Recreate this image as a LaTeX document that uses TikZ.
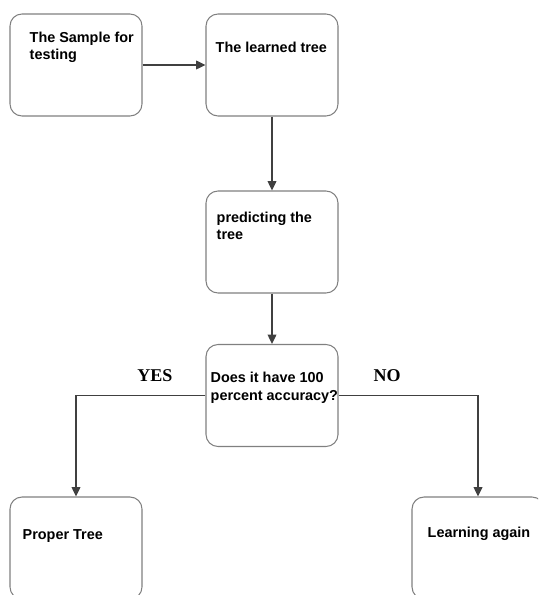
\documentclass[tikz,border=0pt]{standalone}
\usepackage{fontspec}
\setmainfont{Liberation Sans}
\newfontfamily\labelfont{Liberation Serif}
\usetikzlibrary{positioning,
        arrows.meta}

\begin{document}
\begin{tikzpicture}[x=0.75pt,y=-0.75pt,
        box/.style={draw=black!50,line width=0.8pt,rounded corners=9pt,minimum width=99pt,minimum height=76.5pt,inner sep=0pt},
        txt/.style={inner sep=0pt,align=left,font=\bfseries\fontsize{10.8}{13.2}\selectfont},
        yn/.style={font=\labelfont\bfseries\fontsize{13.5}{16}\selectfont},
        link/.style={draw=black!75,line width=1.1pt,-{Triangle[length=7pt,width=6.5pt]}}]
        \useasboundingbox (0,0) rectangle (538,595);
        \clip (0,0) rectangle (538,595);

        \node [box] (sample) at (76,65) {};
        \node [box] (learned) at (272,65) {};
        \node [box] (predict) at (272,242) {};
        \node [box] (accuracy) at (272,395.5) {};
        \node [box] (proper) at (76,548) {};
        \node [box] (again) at (478,548) {};

        \node [txt,below right=13.5pt and 15pt of sample.north west] (sampletext) {The Sample for\\testing};
        \node [txt,below right=21pt and 7.5pt of learned.north west] (learnedtext) {The learned tree};
        \node [txt,below right=15.75pt and 8.25pt of predict.north west] (predicttext) {predicting the\\tree};
        \node [txt,below right=21pt and 3.75pt of accuracy.north west] (accuracytext) {Does it have 100\\percent accuracy?};
        \node [txt,below right=24.75pt and 9.75pt of proper.north west] (propertext) {Proper Tree};
        \node [txt,below right=22.5pt and 12pt of again.north west] (againtext) {Learning again};

        \node [yn] (yes) at (155,376) {YES};
        \node [yn] (no) at (387,376) {NO};

        \draw [link] (sample) -- (learned);
        \draw [link] (learned) -- (predict);
        \draw [link] (predict) -- (accuracy);
        \draw [link] (accuracy.west) -| (proper.north);
        \draw [link] (accuracy.east) -| (again.north);
\end{tikzpicture}
\end{document}
